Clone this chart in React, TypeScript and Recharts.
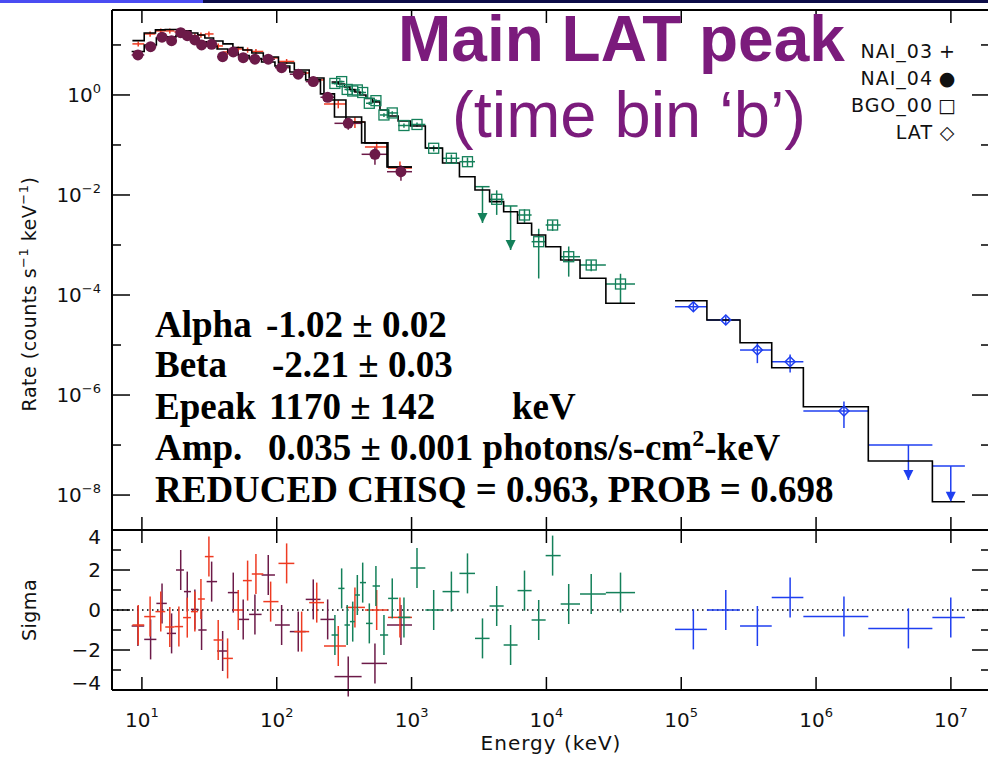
import React from 'react';
import { ComposedChart, Scatter, Line, XAxis, YAxis, ErrorBar, ReferenceLine } from 'recharts';

// ---------- NAI_03 (red crosses) ----------
const nai03E = [9.39, 11.5, 13.8, 16.1, 18.8, 21.7, 24.7, 27.4, 31.4, 36.8, 43.2, 51.8, 60.8, 70.1, 90.1, 118.4, 153, 198, 286, 380, 551, 820];
const nai03Edges = [8.5, 10.4, 12.6, 14.9, 17.4, 20.2, 23.1, 26.0, 29.3, 34.0, 39.9, 47.3, 56.1, 65.3, 79.5, 103, 135, 174, 224, 326, 451, 668, 1007];
const nai03Rate = [10.5, 16.6, 19.1, 19.1, 18.2, 16.6, 15.1, 15.8, 16.6, 9.55, 7.24, 8.32, 7.94, 7.41, 5.5, 4.68, 2.75, 2.0, 0.66, 0.288, 0.0912, 0.0347];
const nai03Err = [1.2, 2.0, 2.2, 2.2, 2.1, 2.0, 1.8, 1.9, 2.0, 1.1, 0.9, 1.0, 0.95, 0.9, 0.66, 0.56, 0.33, 0.26, 0.12, 0.07, 0.025, 0.012];
const nai03Model = [12.2, 17.4, 20.0, 20.4, 20.4, 19.1, 17.4, 15.8, 13.8, 12.0, 10.5, 8.91, 7.94, 6.92, 5.75, 4.37, 3.16, 2.19, 0.794, 0.288, 0.110, 0.0363];
const nai03Resid = [-0.75, -0.33, -0.08, -0.85, -0.83, -0.38, -0.08, 0.55, 2.67, -1.5, -2.42, 0, 1.47, 1.8, 0.42, 2.33, -1.08, 0.37, -1.8, 0.13, 0, -0.37];

// ---------- NAI_04 (filled circles) ----------
const nai04E = [9.34, 11.6, 14.1, 16.6, 19.4, 21.7, 24.7, 27.7, 32.9, 39.7, 47.6, 56.4, 68.9, 86.5, 108.7, 144.4, 186.6, 238.6, 339, 535, 834];
const nai04Edges = [8.39, 10.4, 12.8, 15.3, 17.9, 20.5, 23.1, 26.2, 30.2, 36.1, 43.4, 51.8, 62.4, 77.2, 97, 125, 164, 211, 268, 426, 657, 1007];
const nai04Rate = [6.31, 9.25, 14.3, 12.2, 17.6, 15.3, 12.6, 10.0, 10.3, 5.82, 7.24, 5.58, 5.19, 5.19, 3.51, 2.60, 1.85, 0.90, 0.271, 0.0651, 0.0292];
const nai04Err = [0.6, 0.9, 1.3, 1.2, 1.6, 1.4, 1.2, 1.0, 1.0, 0.6, 0.7, 0.55, 0.5, 0.5, 0.35, 0.26, 0.2, 0.1, 0.07, 0.025, 0.01];
const nai04Model = [7.41, 10.0, 13.8, 14.5, 15.5, 15.1, 13.2, 11.5, 9.55, 8.32, 7.08, 6.17, 5.37, 4.57, 3.80, 2.88, 2.00, 1.05, 0.363, 0.110, 0.0363];
const nai04Resid = [-0.8, -1.47, 0.33, -1.17, 2.0, 0.92, 0.03, -1.0, 1.42, -2.05, 0.87, -0.47, -0.22, 1.75, -0.75, -1.08, 0.53, -0.47, -3.33, -2.67, -0.75];

// ---------- BGO_00 (open squares) ----------
const bgoE = [270, 303, 333, 366, 396, 434, 486, 544, 624, 719, 878, 1097, 1459, 1974, 2598, 3357, 4279, 5426, 6879, 8767, 11117, 14636, 21495, 35450];
const bgoEdges = [255, 286, 318, 349, 380, 414, 459, 514, 583, 670, 795, 981, 1265, 1697, 2265, 2953, 3789, 4818, 6109, 7767, 9872, 12759, 17755, 27610, 45430];
const bgoRate = [1.70, 1.85, 1.29, 1.20, 1.26, 1.12, 0.682, 0.769, 0.398, 0.437, 0.245, 0.257, 0.0859, 0.0542, 0.0463, 0.01466, 0.0082, 0.00603, 0.00398, 0.001164, 0.00251, 0.000583, 0.000398, 0.000166];
const bgoErr = [0.08, 0.08, 0.07, 0.07, 0.07, 0.07, 0.05, 0.05, 0.035, 0.035, 0.025, 0.025, 0.012, 0.01, 0.01, 0, 0.0042, 0, 0.0012, 0.00095, 0.0006, 0.00035, 0.0001, 0.0001];
const bgoLimitTip: (number | null)[] = [null, null, null, null, null, null, null, null, null, null, null, null, null, null, null, 0.00275, null, 0.000794, null, null, null, null, null, null];
const bgoModel = [1.82, 1.66, 1.45, 1.29, 1.15, 1.0, 0.851, 0.724, 0.501, 0.380, 0.302, 0.240, 0.0871, 0.0437, 0.0232, 0.0126, 0.00735, 0.00463, 0.00272, 0.00158, 0.000925, 0.000501, 0.000216, 0.0000682];
const bgoResid = [-1.25, 1.08, -0.75, -0.58, 0.75, 1.37, -0.67, 1.2, -1.25, 0.58, -0.37, 2.1, 0, 0.92, 1.83, -1.42, 0.2, -1.75, 0.97, -0.5, 2.72, 0.3, 0.8, 0.87];

// ---------- LAT (open diamonds) ----------
const latE = [1.23e5, 2.14e5, 3.67e5, 6.42e5, 1.61e6, 4.84e6, 9.98e6];
const latEdges = [9.0e4, 1.55e5, 2.73e5, 4.69e5, 8.05e5, 2.44e6, 7.29e6, 1.27e7];
const latRate = [5.83e-5, 3.16e-5, 7.94e-6, 4.63e-6, 4.79e-7, 1.0e-7, 3.8e-8];
const latErr = [1.1e-5, 6e-6, 3.6e-6, 1.8e-6, 2.6e-7, 0, 0];
const latLimitTip: (number | null)[] = [null, null, null, null, null, 2.0e-8, 7.35e-9];
const latModel = [7.69e-5, 3.16e-5, 1.11e-5, 3.52e-6, 5.83e-7, 4.79e-8, 7.35e-9];
const latResid = [-0.97, 0, -0.8, 0.62, -0.33, -0.92, -0.37];

// ---------- axes ----------
const xTicks = [10, 100, 1000, 10000, 100000, 1000000, 10000000];
const rateTicks = [1e-8, 1e-7, 1e-6, 1e-5, 1e-4, 1e-3, 1e-2, 1e-1, 1, 10];
const sigmaTicks = [-4, -3, -2, -1, 0, 1, 2, 3, 4];
const X_DOMAIN: [number, number] = [6, 1.95e7];
const RATE_DOMAIN: [number, number] = [2e-9, 50];
const SIGMA_DOMAIN: [number, number] = [-4, 4];

const C03 = '#ee3b22';
const C04 = '#6c1a48';
const CBGO = '#14805a';
const CLAT = '#1f3ff0';
const PURPLE = '#7b1b7c';
const FONT = '"DejaVu Sans", sans-serif';
const INK = '#111';

// ---------- table builders ----------
const mkPoints = (E: number[], edges: number[], rate: number[], err: number[], tip: (number | null)[] | null) =>
  E.map((x, i) => ({
    x,
    y: rate[i],
    ex: [x - edges[i], edges[i + 1] - x],
    ey: [err[i], err[i]],
    tip: tip ? tip[i] : null,
  }));
const measured = (pts: any[]) => pts.filter((p) => p.tip == null);
const limits = (pts: any[]) => pts.filter((p) => p.tip != null).map((p) => ({ ...p, ed: [p.y - p.tip, 0] }));
const tips = (pts: any[]) => pts.filter((p) => p.tip != null).map((p) => ({ x: p.x, y: p.tip }));
const mkModel = (edges: number[], model: number[]) => [
  ...model.map((m, i) => ({ x: edges[i], m })),
  { x: edges[edges.length - 1], m: model[model.length - 1] },
];
const mkResid = (E: number[], edges: number[], resid: number[]) =>
  E.map((x, i) => ({ x, y: resid[i], ex: [x - edges[i], edges[i + 1] - x], ey: [1, 1] }));

const p03 = mkPoints(nai03E, nai03Edges, nai03Rate, nai03Err, null);
const p04 = mkPoints(nai04E, nai04Edges, nai04Rate, nai04Err, null);
const pBgo = mkPoints(bgoE, bgoEdges, bgoRate, bgoErr, bgoLimitTip);
const pLat = mkPoints(latE, latEdges, latRate, latErr, latLimitTip);

// ---------- shapes ----------
const NoShape = () => <g />;
const circleShape = (c: string) => (p: any) => <circle cx={p.cx} cy={p.cy} r={5.5} fill={c} />;
const squareShape = (c: string) => (p: any) => (
  <rect x={p.cx - 5} y={p.cy - 5} width={10} height={10} fill="none" stroke={c} strokeWidth={1.3} />
);
const diamondShape = (c: string) => (p: any) => (
  <polygon points={`${p.cx},${p.cy - 5} ${p.cx + 5},${p.cy} ${p.cx},${p.cy + 5} ${p.cx - 5},${p.cy}`} fill="none" stroke={c} strokeWidth={1.5} />
);
const arrowShape = (c: string) => (p: any) => (
  <polygon points={`${p.cx - 5},${p.cy - 10} ${p.cx + 5},${p.cy - 10} ${p.cx},${p.cy}`} fill={c} />
);

// ---------- ticks ----------
const expText = (p: number) => (p === 0 ? '0' : (p < 0 ? '\u2212' : '') + Math.abs(p));

const logYTick = (side: 'left' | 'right') => (props: any) => {
  const { x, y, payload } = props;
  const p = Math.round(Math.log10(payload.value));
  const major = p % 2 === 0;
  const len = major ? 18 : 9;
  const dir = side === 'left' ? 1 : -1;
  return (
    <g>
      <line x1={x} y1={y} x2={x + dir * len} y2={y} stroke="#000" strokeWidth={1.5} />
      {side === 'left' && major && (
        <text x={x - 11} y={y + 7} textAnchor="end" fontFamily={FONT} fontSize={20} fill={INK}>
          10<tspan dy={-9} fontSize={13}>{expText(p)}</tspan>
        </text>
      )}
    </g>
  );
};

const sigmaTick = (side: 'left' | 'right') => (props: any) => {
  const { x, y, payload } = props;
  const v = payload.value;
  const major = v % 2 === 0;
  const len = major ? 18 : 9;
  const dir = side === 'left' ? 1 : -1;
  const shift = v === 4 ? 7 : v === -4 ? -7 : 0;
  return (
    <g>
      <line x1={x} y1={y} x2={x + dir * len} y2={y} stroke="#000" strokeWidth={1.5} />
      {side === 'left' && major && (
        <text x={x - 11} y={y + 7 + shift} textAnchor="end" fontFamily={FONT} fontSize={20} fill={INK}>
          {v < 0 ? '\u2212' + Math.abs(v) : String(v)}
        </text>
      )}
    </g>
  );
};

const xTick = (side: 'top' | 'bottom', labels: boolean) => (props: any) => {
  const { x, y, payload } = props;
  const dir = side === 'bottom' ? -1 : 1;
  const p = Math.round(Math.log10(payload.value));
  return (
    <g>
      <line x1={x} y1={y} x2={x} y2={y + dir * 13} stroke="#000" strokeWidth={1.5} />
      {labels && (
        <text x={x} y={y + 37} textAnchor="middle" fontFamily={FONT} fontSize={20} fill={INK}>
          10<tspan dy={-10} fontSize={13}>{expText(p)}</tspan>
        </text>
      )}
    </g>
  );
};

const axisLine = { stroke: '#000', strokeWidth: 2 };

const errX = (c: string) => <ErrorBar dataKey="ex" direction="x" width={0} stroke={c} strokeWidth={1.5} />;
const errY = (c: string, key = 'ey') => <ErrorBar dataKey={key} direction="y" width={0} stroke={c} strokeWidth={1.5} />;

export default function App() {
  const xCommon = {
    dataKey: 'x',
    type: 'number' as const,
    scale: 'log' as const,
    domain: X_DOMAIN,
    allowDataOverflow: true,
    ticks: xTicks,
    interval: 0 as const,
    height: 1,
    tickSize: 0,
    tickMargin: 0,
    tickLine: false,
    axisLine,
  };
  const yCommon = {
    type: 'number' as const,
    allowDataOverflow: true,
    interval: 0 as const,
    width: 1,
    tickSize: 0,
    tickMargin: 0,
    tickLine: false,
    axisLine,
  };
  return (
    <div style={{ position: 'absolute', left: 0, top: 0, width: 988, height: 759, overflow: 'hidden', background: '#fff' }}>
      <div style={{ position: 'absolute', left: 0, top: 0, width: 203, height: 3, background: '#4a4cf2' }} />
      <div style={{ position: 'absolute', left: 203, top: 0, width: 785, height: 3, background: '#0c0c48' }} />

      {/* upper panel: plot area x 112..990, y 10..530 */}
      <div style={{ position: 'absolute', left: 0, top: 0 }}>
        <ComposedChart width={1000} height={540} margin={{ top: 9, right: 9, bottom: 9, left: 111 }}>
          <XAxis {...xCommon} orientation="bottom" tick={xTick('bottom', false)} />
          <XAxis {...xCommon} xAxisId="t" orientation="top" tick={xTick('top', false)} />
          <YAxis {...yCommon} scale="log" domain={RATE_DOMAIN} ticks={rateTicks} tick={logYTick('left')} />
          <YAxis {...yCommon} yAxisId="r" orientation="right" scale="log" domain={RATE_DOMAIN} ticks={rateTicks} tick={logYTick('right')} />

          <Scatter data={p03} dataKey="y" shape={NoShape} isAnimationActive={false}>
            {errX(C03)}
            {errY(C03)}
          </Scatter>
          <Scatter data={p04} dataKey="y" shape={circleShape(C04)} isAnimationActive={false}>
            {errX(C04)}
            {errY(C04)}
          </Scatter>
          <Scatter data={measured(pBgo)} dataKey="y" shape={squareShape(CBGO)} isAnimationActive={false}>
            {errX(CBGO)}
            {errY(CBGO)}
          </Scatter>
          <Scatter data={limits(pBgo)} dataKey="y" shape={NoShape} isAnimationActive={false}>
            {errX(CBGO)}
            {errY(CBGO, 'ed')}
          </Scatter>
          <Scatter data={tips(pBgo)} dataKey="y" shape={arrowShape(CBGO)} isAnimationActive={false} />
          <Scatter data={measured(pLat)} dataKey="y" shape={diamondShape(CLAT)} isAnimationActive={false}>
            {errX(CLAT)}
            {errY(CLAT)}
          </Scatter>
          <Scatter data={limits(pLat)} dataKey="y" shape={NoShape} isAnimationActive={false}>
            {errX(CLAT)}
            {errY(CLAT, 'ed')}
          </Scatter>
          <Scatter data={tips(pLat)} dataKey="y" shape={arrowShape(CLAT)} isAnimationActive={false} />

          <Line data={mkModel(nai03Edges, nai03Model)} dataKey="m" type="stepAfter" stroke="#000" strokeWidth={1.6} dot={false} isAnimationActive={false} />
          <Line data={mkModel(nai04Edges, nai04Model)} dataKey="m" type="stepAfter" stroke="#000" strokeWidth={1.6} dot={false} isAnimationActive={false} />
          <Line data={mkModel(bgoEdges, bgoModel)} dataKey="m" type="stepAfter" stroke="#000" strokeWidth={1.6} dot={false} isAnimationActive={false} />
          <Line data={mkModel(latEdges, latModel)} dataKey="m" type="stepAfter" stroke="#000" strokeWidth={1.6} dot={false} isAnimationActive={false} />
        </ComposedChart>
      </div>

      {/* residual panel: plot area x 112..990, y 530..690 */}
      <div style={{ position: 'absolute', left: 0, top: 520 }}>
        <ComposedChart width={1000} height={239} margin={{ top: 9, right: 9, bottom: 68, left: 111 }}>
          <XAxis {...xCommon} orientation="bottom" tick={xTick('bottom', true)} />
          <XAxis {...xCommon} xAxisId="t" orientation="top" tick={xTick('top', false)} />
          <YAxis {...yCommon} domain={SIGMA_DOMAIN} ticks={sigmaTicks} tick={sigmaTick('left')} />
          <YAxis {...yCommon} yAxisId="r" orientation="right" domain={SIGMA_DOMAIN} ticks={sigmaTicks} tick={sigmaTick('right')} />
          <ReferenceLine y={0} stroke="#000" strokeDasharray="1.5 3.5" strokeWidth={1.5} />
          <Scatter data={mkResid(nai04E, nai04Edges, nai04Resid)} dataKey="y" shape={NoShape} isAnimationActive={false}>
            {errX(C04)}
            {errY(C04)}
          </Scatter>
          <Scatter data={mkResid(nai03E, nai03Edges, nai03Resid)} dataKey="y" shape={NoShape} isAnimationActive={false}>
            {errX(C03)}
            {errY(C03)}
          </Scatter>
          <Scatter data={mkResid(bgoE, bgoEdges, bgoResid)} dataKey="y" shape={NoShape} isAnimationActive={false}>
            {errX(CBGO)}
            {errY(CBGO)}
          </Scatter>
          <Scatter data={mkResid(latE, latEdges, latResid)} dataKey="y" shape={NoShape} isAnimationActive={false}>
            {errX(CLAT)}
            {errY(CLAT)}
          </Scatter>
        </ComposedChart>
      </div>

      {/* text overlay */}
      <svg width={988} height={759} style={{ position: 'absolute', left: 0, top: 0, pointerEvents: 'none' }}>
        <text x={398} y={61} fontFamily='"Liberation Sans", Arial, sans-serif' fontWeight="bold" fontSize={64} fill={PURPLE}>Main LAT peak</text>
        <text x={452} y={137} fontFamily='"Liberation Sans", Arial, sans-serif' fontSize={65} fill={PURPLE}>(time bin ‘b’)</text>

        <g fontFamily={FONT} fontSize={19} fill={INK} letterSpacing={1}>
          <text x={933} y={58} textAnchor="end">NAI_03</text>
          <text x={933} y={85} textAnchor="end">NAI_04</text>
          <text x={933} y={112} textAnchor="end">BGO_00</text>
          <text x={933} y={139} textAnchor="end">LAT</text>
        </g>
        <g fontFamily={FONT} fontSize={19} fill={INK} textAnchor="middle">
          <text x={947} y={58}>+</text>
          <text x={947} y={85}>●</text>
          <text x={947} y={112}>□</text>
          <text x={947} y={139}>◇</text>
        </g>

        <text transform="translate(36,294) rotate(-90)" textAnchor="middle" fontFamily={FONT} fontSize={19} fill={INK} letterSpacing={0.5}>
          Rate (counts s<tspan dy={-8} fontSize={13}>−1</tspan><tspan dy={8}> keV</tspan><tspan dy={-8} fontSize={13}>−1</tspan><tspan dy={8}>)</tspan>
        </text>
        <text transform="translate(36,610) rotate(-90)" textAnchor="middle" fontFamily={FONT} fontSize={19} fill={INK} letterSpacing={0.5}>Sigma</text>
        <text x={551} y={750} textAnchor="middle" fontFamily={FONT} fontSize={20} fill={INK} letterSpacing={1}>Energy (keV)</text>

        <g fontFamily='"Liberation Serif", "Times New Roman", serif' fontWeight="bold" fontSize={37} fill="#000">
          <text x={155} y={337}>Alpha</text>
          <text x={266} y={337}>-1.02 ± 0.02</text>
          <text x={155} y={377}>Beta</text>
          <text x={272} y={377}>-2.21 ± 0.03</text>
          <text x={155} y={419}>Epeak</text>
          <text x={269} y={419}>1170 ± 142</text>
          <text x={512} y={419}>keV</text>
          <text x={155} y={460}>Amp.</text>
          <text x={268} y={460}>0.035 ± 0.001 photons/s-cm<tspan dy={-14} fontSize={24}>2</tspan><tspan dy={14}>-keV</tspan></text>
          <text x={155} y={502}>REDUCED CHISQ = 0.963, PROB = 0.698</text>
        </g>
      </svg>
    </div>
  );
}
